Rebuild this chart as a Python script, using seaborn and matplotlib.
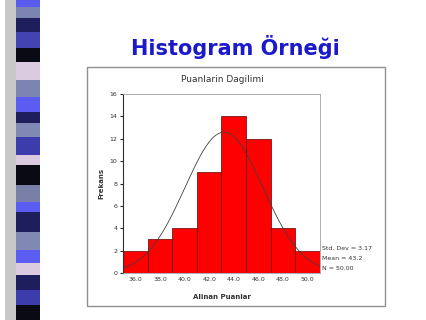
import numpy as np
import pandas as pd
import matplotlib
matplotlib.use("Agg")
import matplotlib.pyplot as plt
import seaborn as sns
from matplotlib.patches import Rectangle

# Data
bin_centers = [36, 38, 40, 42, 44, 46, 48, 50]
counts = [2, 3, 4, 9, 14, 12, 4, 2]
bin_edges = [35, 37, 39, 41, 43, 45, 47, 49, 51]
stat_mean = 43.2
stat_sd = 3.17
stat_n = 50
x_ticks = [36.0, 38.0, 40.0, 42.0, 44.0, 46.0, 48.0, 50.0]
y_ticks = [0, 2, 4, 6, 8, 10, 12, 14, 16]

sns.set_style("white")
plt.rcParams['font.family'] = ['DejaVu Sans']

fig = plt.figure(figsize=(4.27, 3.2), dpi=100)
W, H = 427, 320

def fx(x):
    return x / W

def fy(y):
    return 1 - y / H

# Decorative strip on the left
strip = [
    (0, 7, '#5a5cf0'), (7, 18, '#7c84b2'), (18, 32, '#1e1e5c'), (32, 48, '#4343b4'),
    (48, 62, '#0a0a14'), (62, 80, '#dccbe0'), (80, 97, '#7c84b2'), (97, 112, '#5a5cf2'),
    (112, 123, '#1e1e5c'), (123, 137, '#8088b4'), (137, 155, '#3c3cac'), (155, 165, '#dccbe0'),
    (165, 185, '#0a0a14'), (185, 202, '#7880a8'), (202, 212, '#5a5cf2'), (212, 232, '#1e1e5c'),
    (232, 250, '#8088b4'), (250, 263, '#5a5cf2'), (263, 275, '#dccbe0'), (275, 290, '#1e1e5c'),
    (290, 305, '#3c3cac'), (305, 320, '#0a0a14'),
]
fig.patches.append(Rectangle((fx(5), 0), fx(12), 1, transform=fig.transFigure,
                             facecolor='#c8c8c8', edgecolor='none', zorder=0))
for y0, y1, c in strip:
    fig.patches.append(Rectangle((fx(16), fy(y1)), fx(24), (y1 - y0) / H,
                                 transform=fig.transFigure, facecolor=c,
                                 edgecolor='none', zorder=1))

# Slide title
fig.text(fx(235), fy(47), "Histogram Örneği", ha='center', va='center',
         fontsize=15, fontweight='bold', color='#1a1acc')

# Chart box
fig.patches.append(Rectangle((fx(87), fy(306)), fx(298), (306 - 67) / H,
                             transform=fig.transFigure, facecolor='white',
                             edgecolor='#909090', linewidth=1.0, zorder=2))

ax = fig.add_axes([fx(123), fy(273), fx(320 - 123), (273 - 94) / H])
ax.set_zorder(3)

df = pd.DataFrame({"x": bin_centers, "count": counts})
sns.histplot(data=df, x="x", weights="count", bins=bin_edges, ax=ax,
             color='#ff0000', alpha=1.0, edgecolor='#600000', linewidth=0.5)

# Fitted normal curve from the shown statistics
xs = np.linspace(bin_edges[0], bin_edges[-1], 300)
binw = bin_edges[1] - bin_edges[0]
ys = stat_n * binw / (stat_sd * np.sqrt(2 * np.pi)) * np.exp(-0.5 * ((xs - stat_mean) / stat_sd) ** 2)
sns.lineplot(x=xs, y=ys, ax=ax, color='#404040', linewidth=0.6)

ax.set_xlim(bin_edges[0], bin_edges[-1])
ax.set_ylim(0, 16)
ax.set_xticks(x_ticks)
ax.set_xticklabels([f"{v:.1f}" for v in x_ticks], fontsize=4.5, color='#333333')
ax.set_yticks(y_ticks)
ax.set_yticklabels([str(v) for v in y_ticks], fontsize=4.5, color='#333333')
ax.tick_params(axis='y', length=2, width=0.8, pad=2, direction='out', left=True)
ax.tick_params(axis='x', length=0, pad=3)
for s in ['top', 'right', 'bottom']:
    ax.spines[s].set_color('#a0a0a0')
    ax.spines[s].set_linewidth(0.6)
ax.spines['left'].set_color('#303030')
ax.spines['left'].set_linewidth(0.8)
ax.set_xlabel("")
ax.set_ylabel("")

fig.text(fx(222), fy(80), "Puanlarin Dagilimi", ha='center', va='center',
         fontsize=6.5, color='#333333')
fig.text(fx(101), fy(183), "Frekans", ha='center', va='center', rotation=90,
         fontsize=5, fontweight='bold', color='#333333')
fig.text(fx(222), fy(297), "Alinan Puanlar", ha='center', va='center',
         fontsize=5, fontweight='bold', color='#333333')
for yy, t in [(249, f"Std. Dev = {stat_sd:.2f}"), (258.5, f"Mean = {stat_mean:.1f}"),
              (268, f"N = {stat_n:.2f}")]:
    fig.text(fx(322), fy(yy), t, ha='left', va='center', fontsize=4.5, color='#333333')

fig.savefig("out.png", dpi=100)
